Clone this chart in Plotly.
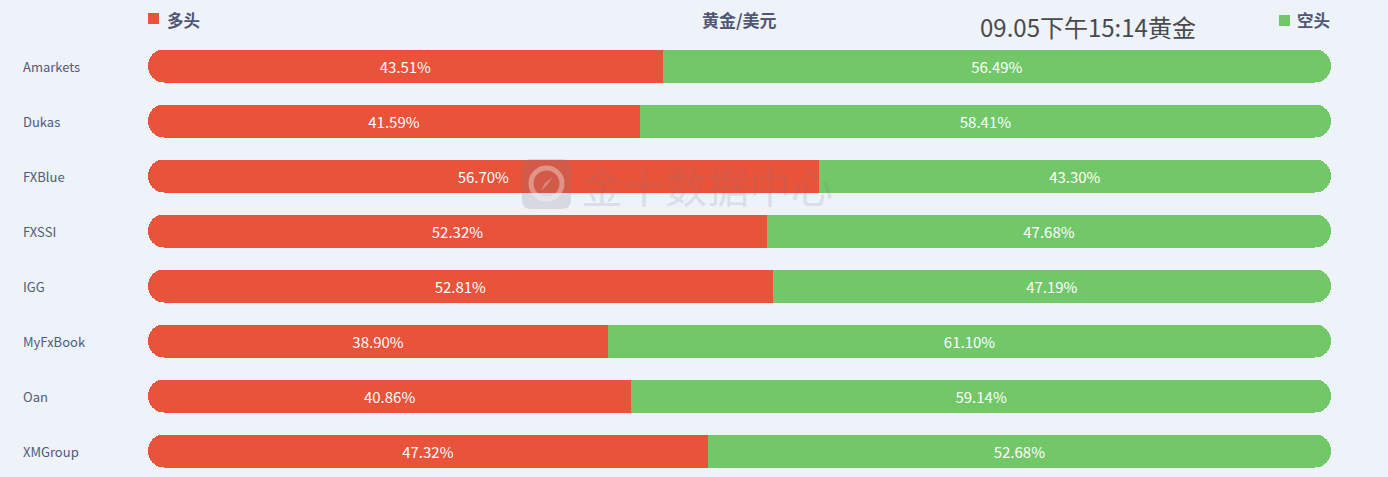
import plotly.graph_objects as go

brokers = ["Amarkets", "Dukas", "FXBlue", "FXSSI", "IGG", "MyFxBook", "Oan", "XMGroup"]
long_pct = [43.51, 41.59, 56.70, 52.32, 52.81, 38.90, 40.86, 47.32]
short_pct = [56.49, 58.41, 43.30, 47.68, 47.19, 61.10, 59.14, 52.68]

RED = "#E8533A"
GREEN = "#72C868"
BG = "#EEF2F9"
FONT = "Noto Sans CJK SC"
LABEL_FONT = dict(color="white", size=15, family=FONT)
CLEAR = "rgba(0,0,0,0)"

common = dict(y=brokers, orientation="h", width=0.6, showlegend=False, hoverinfo="skip")

fig = go.Figure()
# Normal axis (0 on the left): transparent long part + green short part on top of the stack
#   -> only the outer (right) end of the green segment is rounded
fig.add_trace(go.Bar(x=long_pct, marker=dict(color=CLEAR, line=dict(width=0)), **common))
fig.add_trace(go.Bar(
    x=short_pct, marker=dict(color=GREEN, line=dict(width=0)),
    text=[f"{v:.2f}%" for v in short_pct], textposition="inside",
    insidetextanchor="middle", textangle=0, textfont=LABEL_FONT, **common))
# Reversed overlaying axis (0 on the right): transparent short part + red long part on top
#   -> only the outer (left) end of the red segment is rounded
fig.add_trace(go.Bar(x=short_pct, xaxis="x2", marker=dict(color=CLEAR, line=dict(width=0)), **common))
fig.add_trace(go.Bar(
    x=long_pct, xaxis="x2", marker=dict(color=RED, line=dict(width=0)),
    text=[f"{v:.2f}%" for v in long_pct], textposition="inside",
    insidetextanchor="middle", textangle=0, textfont=LABEL_FONT, **common))

W, H = 1388, 477
L, R = 148, 57
pw = W - L - R

def px(x): return (x - L) / pw
def py(y): return 1 - y / H

annotations = []
for b in brokers:
    annotations.append(dict(
        x=px(21), xref="paper", y=b, yref="y", text=b, showarrow=False,
        xanchor="left", yanchor="middle",
        font=dict(size=13, color="#4E5B7A", family=FONT),
    ))
hdr = "#4E5775"
annotations += [
    dict(x=px(165), y=py(20), text="<b>多头</b>", xanchor="left",
         font=dict(size=16.5, color=hdr, family=FONT)),
    dict(x=px(739), y=py(20), text="<b>黄金/美元</b>", xanchor="center",
         font=dict(size=17, color=hdr, family=FONT)),
    dict(x=px(1088), y=py(27), text="09.05下午15:14黄金", xanchor="center",
         font=dict(size=24, color="#4A4A4A", family=FONT)),
    dict(x=px(1295), y=py(20), text="<b>空头</b>", xanchor="left",
         font=dict(size=16.5, color=hdr, family=FONT)),
    dict(x=px(707), y=py(184), text="金十数据中心", xanchor="center",
         font=dict(size=42, color="rgba(120,120,130,0.18)", family=FONT)),
]
for a in annotations[len(brokers):]:
    a.update(xref="paper", yref="paper", showarrow=False, yanchor="middle")

x0, x1, ya, yb, r = 522, 571, 159, 209, 9
icon = (f"M {px(x0 + r)},{py(ya)} L {px(x1 - r)},{py(ya)} Q {px(x1)},{py(ya)} {px(x1)},{py(ya + r)} "
        f"L {px(x1)},{py(yb - r)} Q {px(x1)},{py(yb)} {px(x1 - r)},{py(yb)} L {px(x0 + r)},{py(yb)} "
        f"Q {px(x0)},{py(yb)} {px(x0)},{py(yb - r)} L {px(x0)},{py(ya + r)} Q {px(x0)},{py(ya)} {px(x0 + r)},{py(ya)} Z")
rocket = (f"M {px(553)},{py(177)} L {px(546)},{py(186)} L {px(541)},{py(191)} L {px(545)},{py(183)} Z")

shapes = [
    dict(type="rect", xref="paper", yref="paper",
         x0=px(148), x1=px(159), y0=py(24), y1=py(13),
         fillcolor=RED, line=dict(width=0)),
    dict(type="rect", xref="paper", yref="paper",
         x0=px(1279), x1=px(1290), y0=py(26), y1=py(15),
         fillcolor=GREEN, line=dict(width=0)),
    dict(type="path", xref="paper", yref="paper", path=icon,
         fillcolor="rgba(120,120,130,0.2)", line=dict(width=0)),
    dict(type="circle", xref="paper", yref="paper",
         x0=px(531), x1=px(562), y0=py(199), y1=py(168),
         line=dict(color="rgba(255,255,255,0.35)", width=5), fillcolor=CLEAR),
    dict(type="path", xref="paper", yref="paper", path=rocket,
         fillcolor="rgba(255,255,255,0.3)", line=dict(width=0)),
]

fig.update_layout(
    width=W, height=H,
    margin=dict(l=L, r=R, t=0, b=0),
    paper_bgcolor=BG, plot_bgcolor=BG,
    barmode="stack", barcornerradius="50%",
    xaxis=dict(range=[0, 100], visible=False, fixedrange=True),
    xaxis2=dict(range=[100, 0], visible=False, fixedrange=True, overlaying="x"),
    yaxis=dict(categoryorder="array", categoryarray=brokers,
               range=[7 + 26 / 55, -66 / 55], showticklabels=False,
               showgrid=False, zeroline=False, fixedrange=True),
    annotations=annotations, shapes=shapes,
    uniformtext=dict(minsize=15, mode="show"),
)

fig.write_html("out.html", config={"displayModeBar": False},
               post_script="document.body.style.margin='0';document.body.style.background='%s';" % BG)
